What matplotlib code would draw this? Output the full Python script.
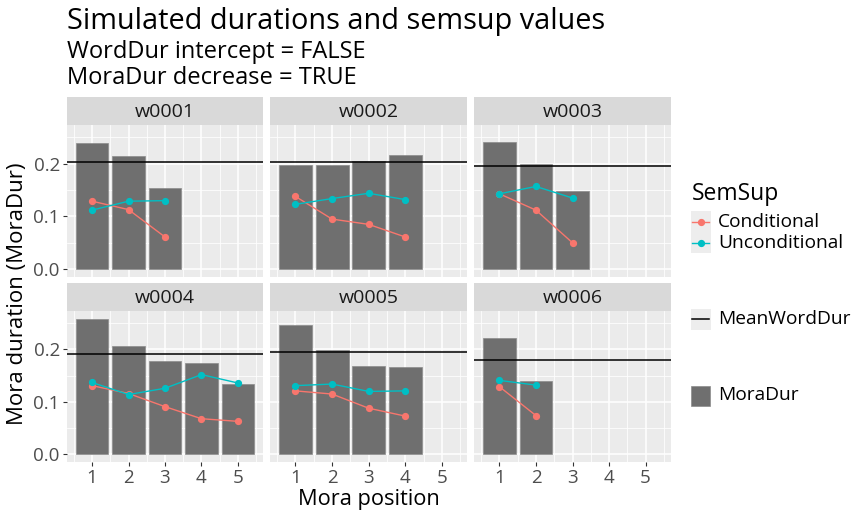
import matplotlib
matplotlib.use("Agg")
import matplotlib.pyplot as plt
from matplotlib.patches import Rectangle
from matplotlib.lines import Line2D
import numpy as np

plt.rcParams['font.family'] = ['Open Sans', 'DejaVu Sans']

words = ["w0001", "w0002", "w0003", "w0004", "w0005", "w0006"]
mora_dur = [
    [0.239, 0.215, 0.154],
    [0.197, 0.198, 0.206, 0.217],
    [0.241, 0.199, 0.148],
    [0.258, 0.207, 0.178, 0.175, 0.134],
    [0.247, 0.198, 0.169, 0.167],
    [0.221, 0.139],
]
mean_word_dur = [0.203, 0.204, 0.195, 0.192, 0.195, 0.179]
cond = [
    [0.129, 0.113, 0.061],
    [0.138, 0.095, 0.085, 0.061],
    [0.143, 0.112, 0.050],
    [0.131, 0.116, 0.091, 0.068, 0.063],
    [0.121, 0.115, 0.088, 0.073],
    [0.129, 0.074],
]
uncond = [
    [0.112, 0.129, 0.130],
    [0.123, 0.134, 0.144, 0.132],
    [0.143, 0.157, 0.135],
    [0.137, 0.114, 0.126, 0.152, 0.136],
    [0.131, 0.134, 0.120, 0.121],
    [0.141, 0.132],
]
x_ticks = [1, 2, 3, 4, 5]
y_ticks = [0.0, 0.1, 0.2]
y_tick_labels = ["0.0", "0.1", "0.2"]

COND_C = "#F8766D"
UNC_C = "#00BFC4"
BAR_C = "#6F6F6F"
PANEL_BG = "#EBEBEB"
STRIP_BG = "#D9D9D9"

W, H = 853, 514
fig = plt.figure(figsize=(W / 100, H / 100), dpi=100)

def px_axes(x0, y0, x1, y1, **kw):
    return fig.add_axes([x0 / W, 1 - y1 / H, (x1 - x0) / W, (y1 - y0) / H], **kw)

cols = [(66.7, 263.3), (270.0, 467.3), (474.0, 671.0)]
rows = [((97.0, 125.3), (125.3, 276.7)), ((282.7, 311.0), (311.0, 462.0))]

for i, w in enumerate(words):
    r, c = divmod(i, 3)
    (sx0, sx1) = cols[c]
    (st0, st1), (pt0, pt1) = rows[r]
    # strip
    sax = px_axes(sx0, st0, sx1, st1)
    sax.set_facecolor(STRIP_BG)
    sax.set_xticks([]); sax.set_yticks([])
    for s in sax.spines.values():
        s.set_visible(False)
    sax.text(0.5, 0.47, w, ha="center", va="center", fontsize=14,
             color="#1A1A1A", transform=sax.transAxes)
    # panel
    ax = px_axes(sx0, pt0, sx1, pt1)
    ax.set_facecolor(PANEL_BG)
    for s in ax.spines.values():
        s.set_visible(False)
    ax.set_xlim(0.305, 5.695)
    ax.set_ylim(-0.0144, 0.2731)
    ax.set_xticks(x_ticks)
    ax.set_xticks([0.5, 1.5, 2.5, 3.5, 4.5, 5.5], minor=True)
    ax.set_yticks(y_ticks)
    ax.set_yticks([0.05, 0.15, 0.25], minor=True)
    ax.grid(True, which="major", color="white", linewidth=1.1)
    ax.grid(True, which="minor", color="white", linewidth=0.55)
    ax.set_axisbelow(True)
    ax.tick_params(which="minor", length=0)
    ax.tick_params(which="major", color="#333333", length=3, width=0.8,
                   labelsize=13.5, labelcolor="#4D4D4D", pad=2)
    if r == 0:
        ax.tick_params(axis="x", which="major", length=0, labelbottom=False)
    else:
        ax.set_xticklabels([str(t) for t in x_ticks])
    if c == 0:
        ax.set_yticklabels(y_tick_labels)
    else:
        ax.tick_params(axis="y", which="major", length=0, labelleft=False)

    xs = np.arange(1, len(mora_dur[i]) + 1)
    ax.bar(xs, mora_dur[i], width=0.9, color=BAR_C, edgecolor="#8C8C8C",
           linewidth=0.5, zorder=2)
    ax.axhline(mean_word_dur[i], color="black", linewidth=1.1, zorder=3)
    ax.plot(xs, cond[i], color=COND_C, linewidth=1.0, marker="o",
            markersize=4.2, zorder=4)
    ax.plot(xs, uncond[i], color=UNC_C, linewidth=1.0, marker="o",
            markersize=4.2, zorder=5)

# titles
fig.text(66.7 / W, 1 - 28.5 / H, "Simulated durations and semsup values",
         fontsize=20.8, color="black", ha="left", va="baseline")
fig.text(66.7 / W, 1 - 58.5 / H, "WordDur intercept = FALSE",
         fontsize=17, color="black", ha="left", va="baseline")
fig.text(66.7 / W, 1 - 84.3 / H, "MoraDur decrease = TRUE",
         fontsize=17, color="black", ha="left", va="baseline")
fig.text(368.9 / W, 1 - 505 / H, "Mora position", fontsize=15.7,
         ha="center", va="baseline")
fig.text(18 / W, 1 - 293.5 / H, "Mora duration (MoraDur)", fontsize=16,
         ha="center", va="center", rotation=90)

# legend
lax = fig.add_axes([0, 0, 1, 1])
lax.set_xlim(0, W); lax.set_ylim(H, 0)
lax.axis("off")
lax.text(692, 199.5, "SemSup", fontsize=16.5, ha="left", va="baseline")
for k, (yc, col, lab) in enumerate([(221.7, COND_C, "Conditional"),
                                     (242.7, UNC_C, "Unconditional")]):
    lax.add_patch(Rectangle((690.7, yc - 10.5), 20.3, 21, facecolor="#EDEDED",
                            edgecolor="none"))
    lax.add_line(Line2D([692.5, 709.2], [yc, yc], color=col, linewidth=1.0))
    lax.plot([700.85], [yc], marker="o", color=col, markersize=4.2)
    lax.text(718.3, yc, lab, fontsize=13.8, ha="left", va="center")
lax.add_patch(Rectangle((690.7, 308.5), 20.3, 21, facecolor="#EDEDED",
                        edgecolor="none"))
lax.add_line(Line2D([692.5, 709.2], [319, 319], color="black", linewidth=1.1))
lax.text(718.3, 319, "MeanWordDur", fontsize=13.8, ha="left", va="center")
lax.add_patch(Rectangle((691.2, 385.5), 19.3, 20, facecolor=BAR_C,
                        edgecolor="#8C8C8C", linewidth=0.5))
lax.text(718.3, 395.5, "MoraDur", fontsize=13.8, ha="left", va="center")

fig.savefig("out.png", dpi=100)
